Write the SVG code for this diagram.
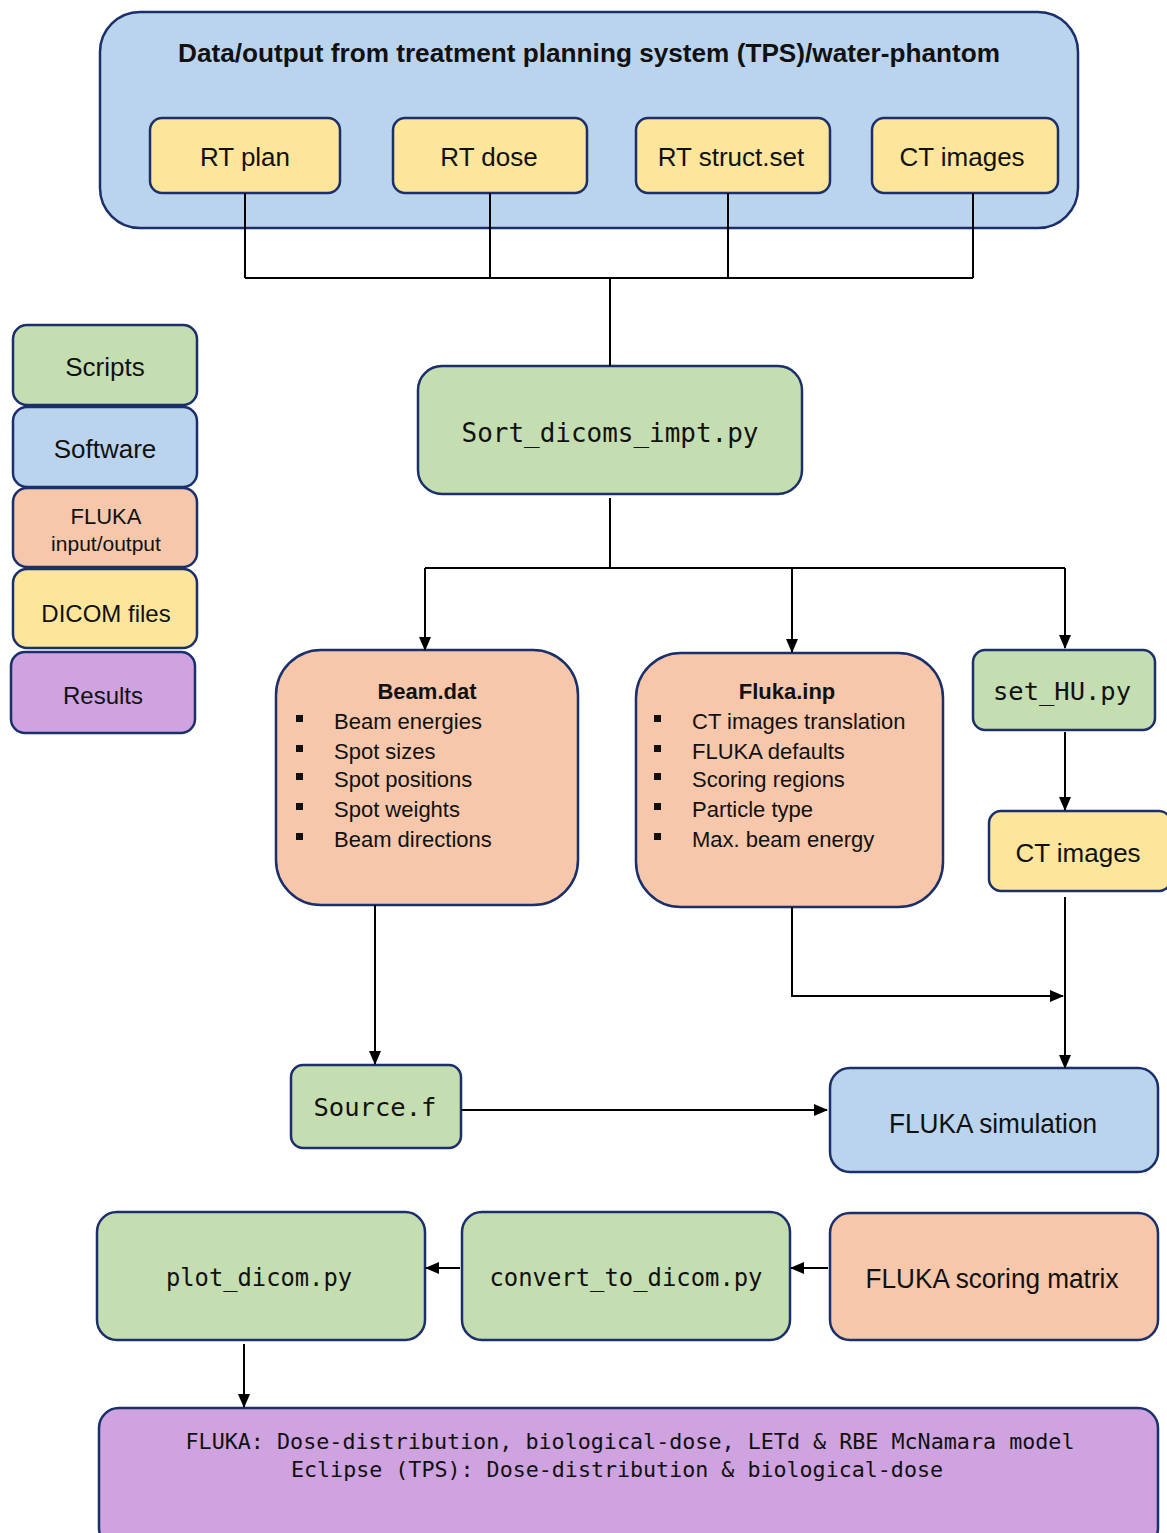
<svg xmlns="http://www.w3.org/2000/svg" width="1167" height="1533" viewBox="0 0 1167 1533">
<style>
.box{stroke:#1b2f6a;stroke-width:2.5}
.blue{fill:#bbd4ee}.green{fill:#c5deb1}.peach{fill:#f6c7aa}.yellow{fill:#fde59b}.purple{fill:#cea3df}
.sans{font-family:"Liberation Sans",Arial,sans-serif;fill:#111}
.mono{font-family:"DejaVu Sans Mono","Liberation Mono",monospace;fill:#111}
.c{text-anchor:middle}
.ln{stroke:#000;stroke-width:2;fill:none}
</style>
<defs>
<marker id="ah" markerWidth="14" markerHeight="12" refX="13" refY="6" orient="auto" markerUnits="userSpaceOnUse"><path d="M0,0 L14,6 L0,12 Z" fill="#000"/></marker>
</defs>
<g id="tps">
<rect class="box blue" x="100" y="12" width="978" height="216" rx="40"/>
<text class="sans c" x="589" y="62" font-size="26" font-weight="bold" textLength="822" lengthAdjust="spacingAndGlyphs">Data/output from treatment planning system (TPS)/water-phantom</text>
</g>
<g id="rtplan"><rect class="box yellow" x="150" y="118" width="190" height="75" rx="12"/><text class="sans c" x="245" y="166" font-size="26">RT plan</text></g>
<g id="rtdose"><rect class="box yellow" x="393" y="118" width="194" height="75" rx="12"/><text class="sans c" x="489" y="166" font-size="26">RT dose</text></g>
<g id="rtstruct"><rect class="box yellow" x="636" y="118" width="194" height="75" rx="12"/><text class="sans c" x="731" y="166" font-size="26">RT struct.set</text></g>
<g id="ctimages1"><rect class="box yellow" x="872" y="118" width="186" height="75" rx="12"/><text class="sans c" x="962" y="166" font-size="26">CT images</text></g>

<g id="legend-scripts"><rect class="box green" x="13" y="325" width="184" height="80" rx="14"/><text class="sans c" x="105" y="376" font-size="26">Scripts</text></g>
<g id="legend-software"><rect class="box blue" x="13" y="407" width="184" height="80" rx="14"/><text class="sans c" x="105" y="458" font-size="26">Software</text></g>
<g id="legend-fluka"><rect class="box peach" x="13" y="488" width="184" height="79" rx="14"/><text class="sans c" x="106" y="524" font-size="22">FLUKA</text><text class="sans c" x="106" y="551" font-size="21">input/output</text></g>
<g id="legend-dicom"><rect class="box yellow" x="13" y="569" width="184" height="79" rx="14"/><text class="sans c" x="106" y="622" font-size="24">DICOM files</text></g>
<g id="legend-results"><rect class="box purple" x="11" y="652" width="184" height="81" rx="14"/><text class="sans c" x="103" y="704" font-size="24">Results</text></g>

<g id="sortdicoms"><rect class="box green" x="418" y="366" width="384" height="128" rx="24"/><text class="mono c" x="610" y="442" font-size="26" textLength="297" lengthAdjust="spacingAndGlyphs">Sort_dicoms_impt.py</text></g>

<g id="beamdat">
<rect class="box peach" x="276" y="650" width="302" height="255" rx="45"/>
<text class="sans c" x="427" y="699" font-size="22" font-weight="bold">Beam.dat</text>
<g fill="#111"><rect x="296" y="715" width="7" height="7"/><rect x="296" y="745" width="7" height="7"/><rect x="296" y="773" width="7" height="7"/><rect x="296" y="803" width="7" height="7"/><rect x="296" y="833" width="7" height="7"/></g>
<text class="sans" x="334" y="729" font-size="22">Beam energies</text>
<text class="sans" x="334" y="759" font-size="22">Spot sizes</text>
<text class="sans" x="334" y="787" font-size="22">Spot positions</text>
<text class="sans" x="334" y="817" font-size="22">Spot weights</text>
<text class="sans" x="334" y="847" font-size="22">Beam directions</text>
</g>

<g id="flukainp">
<rect class="box peach" x="636" y="653" width="307" height="254" rx="45"/>
<text class="sans c" x="787" y="699" font-size="22" font-weight="bold">Fluka.inp</text>
<g fill="#111"><rect x="654" y="715" width="7" height="7"/><rect x="654" y="745" width="7" height="7"/><rect x="654" y="773" width="7" height="7"/><rect x="654" y="803" width="7" height="7"/><rect x="654" y="833" width="7" height="7"/></g>
<text class="sans" x="692" y="729" font-size="22">CT images translation</text>
<text class="sans" x="692" y="759" font-size="22">FLUKA defaults</text>
<text class="sans" x="692" y="787" font-size="22">Scoring regions</text>
<text class="sans" x="692" y="817" font-size="22">Particle type</text>
<text class="sans" x="692" y="847" font-size="22">Max. beam energy</text>
</g>

<g id="sethu"><rect class="box green" x="973" y="650" width="182" height="80" rx="12"/><text class="mono c" x="1062" y="700" font-size="25" textLength="138" lengthAdjust="spacingAndGlyphs">set_HU.py</text></g>
<g id="ctimages2"><rect class="box yellow" x="989" y="811" width="182" height="80" rx="12"/><text class="sans c" x="1078" y="862" font-size="26">CT images</text></g>

<g id="sourcef"><rect class="box green" x="291" y="1065" width="170" height="83" rx="12"/><text class="mono c" x="375" y="1116" font-size="25" textLength="123" lengthAdjust="spacingAndGlyphs">Source.f</text></g>
<g id="flukasim"><rect class="box blue" x="830" y="1068" width="328" height="104" rx="20"/><text class="sans c" x="993" y="1133" font-size="27" textLength="208" lengthAdjust="spacingAndGlyphs">FLUKA simulation</text></g>

<g id="plotdicom"><rect class="box green" x="97" y="1212" width="328" height="128" rx="20"/><text class="mono c" x="259" y="1286" font-size="24" textLength="186" lengthAdjust="spacingAndGlyphs">plot_dicom.py</text></g>
<g id="convert"><rect class="box green" x="462" y="1212" width="328" height="128" rx="20"/><text class="mono c" x="626" y="1286" font-size="24" textLength="273" lengthAdjust="spacingAndGlyphs">convert_to_dicom.py</text></g>
<g id="scoring"><rect class="box peach" x="830" y="1213" width="328" height="127" rx="20"/><text class="sans c" x="992" y="1288" font-size="27" textLength="253" lengthAdjust="spacingAndGlyphs">FLUKA scoring matrix</text></g>

<g id="results"><rect class="box purple" x="99" y="1408" width="1059" height="140" rx="20"/>
<text class="mono c" x="630" y="1449" font-size="21" textLength="889" lengthAdjust="spacingAndGlyphs">FLUKA: Dose-distribution, biological-dose, LETd &amp; RBE McNamara model</text>
<text class="mono c" x="617" y="1477" font-size="21" textLength="652" lengthAdjust="spacingAndGlyphs">Eclipse (TPS): Dose-distribution &amp; biological-dose</text>
</g>

<g id="connectors">
<path class="ln" d="M245,193 V278 M490,193 V278 M728,193 V278 M973,193 V278 M245,278 H973 M610,278 V366"/>
<path class="ln" d="M610,498 V568 M425,568 H1065"/>
<path class="ln" d="M425,568 V650" marker-end="url(#ah)"/>
<path class="ln" d="M792,568 V652" marker-end="url(#ah)"/>
<path class="ln" d="M1065,568 V648" marker-end="url(#ah)"/>
<path class="ln" d="M1065,732 V810" marker-end="url(#ah)"/>
<path class="ln" d="M1065,897 V1068" marker-end="url(#ah)"/>
<path class="ln" d="M792,907 V996 H1063" stroke-width="2.5" marker-end="url(#ah)"/>
<path class="ln" d="M375,905 V1064" marker-end="url(#ah)"/>
<path class="ln" d="M461,1110 H827" stroke-width="2.5" marker-end="url(#ah)"/>
<path class="ln" d="M460,1268 H426" stroke-width="2.5" marker-end="url(#ah)"/>
<path class="ln" d="M828,1268 H791" stroke-width="2.5" marker-end="url(#ah)"/>
<path class="ln" d="M244,1344 V1407" marker-end="url(#ah)"/>
</g>
</svg>
